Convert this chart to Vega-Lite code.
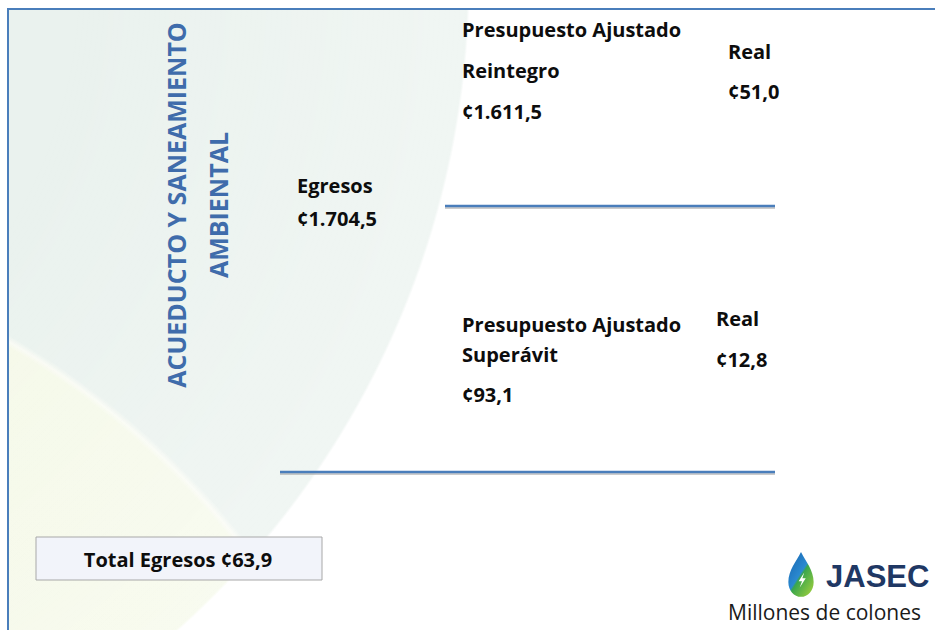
{
  "$schema": "https://vega.github.io/schema/vega-lite/v6.json",
  "width": 935,
  "height": 630,
  "autosize": {"type": "none"},
  "padding": {"left": 9, "top": 10, "right": 0, "bottom": 0},
  "background": "#ffffff",
  "config": {
    "view": {"stroke": "#4a7ebb", "strokeWidth": 4},
    "locale": {"number": {"decimal": ",", "thousands": ".", "grouping": [3], "currency": ["¢", ""]}}
  },
  "datasets": {
    "fondo": [{"capa": "fondo"}],
    "textos": [
      {"texto": "ACUEDUCTO Y SANEAMIENTO", "tipo": "titulo", "col": 1, "fila": 6},
      {"texto": "AMBIENTAL", "tipo": "titulo", "col": 2, "fila": 6},
      {"texto": "Egresos", "tipo": "concepto", "col": 4, "fila": 5},
      {"texto": "Presupuesto Ajustado", "tipo": "concepto", "col": 7, "fila": 0},
      {"texto": "Reintegro", "tipo": "concepto", "col": 7, "fila": 2},
      {"texto": "Real", "tipo": "concepto", "col": 9, "fila": 1},
      {"texto": "Presupuesto Ajustado", "tipo": "concepto", "col": 7, "fila": 10},
      {"texto": "Superávit", "tipo": "concepto", "col": 7, "fila": 11},
      {"texto": "Real", "tipo": "concepto", "col": 8, "fila": 9},
      {"texto": "Total Egresos ¢63,9", "tipo": "total", "col": 1, "fila": 16},
      {"texto": "Millones de colones", "tipo": "unidad", "col": 9, "fila": 20},
      {"texto": "JASEC", "tipo": "marca", "col": 12, "fila": 19}
    ],
    "montos": [
      {"concepto": "Egresos", "monto": 1704.5, "col": 4, "fila": 8},
      {"concepto": "Reintegro ajustado", "monto": 1611.5, "col": 7, "fila": 4},
      {"concepto": "Reintegro real", "monto": 51.0, "col": 9, "fila": 3},
      {"concepto": "Superávit ajustado", "monto": 93.1, "col": 7, "fila": 13},
      {"concepto": "Superávit real", "monto": 12.8, "col": 8, "fila": 12}
    ],
    "divisiones": [
      {"rama": "Reintegro", "col": 6, "col_fin": 10, "fila": 7},
      {"rama": "Superávit", "col": 3, "col_fin": 10, "fila": 14}
    ],
    "total": [
      {"concepto": "Total Egresos", "monto": 63.9, "col": 0, "col_fin": 5, "fila": 15, "fila_fin": 18}
    ],
    "logo": [
      {"elemento": "gota", "col": 11, "fila": 17},
      {"elemento": "rayo", "col": 11, "fila": 17}
    ]
  },
  "layer": [
    {
      "data": {"name": "fondo"},
      "mark": {
        "type": "rect",
        "fill": {
          "gradient": "radial",
          "x1": -0.435, "y1": 1.268, "r1": 0,
          "x2": -0.435, "y2": 1.268, "r2": 0.873,
          "stops": [
            {"offset": 0, "color": "#f3f7e2"},
            {"offset": 0.987, "color": "#f5f9e9"},
            {"offset": 0.993, "color": "#f9fbf4"},
            {"offset": 1, "color": "#eaf2ee"}
          ]
        }
      },
      "encoding": {}
    },
    {
      "data": {"name": "fondo"},
      "mark": {
        "type": "rect",
        "fill": {
          "gradient": "radial",
          "x1": -0.442, "y1": 0.13, "r1": 0,
          "x2": -0.442, "y2": 0.13, "r2": 0.935,
          "stops": [
            {"offset": 0, "color": "rgba(255,255,255,0)"},
            {"offset": 0.55, "color": "rgba(255,255,255,0)"},
            {"offset": 0.997, "color": "rgba(255,255,255,0.3)"},
            {"offset": 1, "color": "#ffffff"}
          ]
        }
      },
      "encoding": {}
    },
    {
      "encoding": {
        "x": {"field": "col", "type": "quantitative", "axis": null,
              "scale": {"domain": [0, 1, 2, 3, 4, 5, 6, 7, 8, 9, 10, 11, 12],
                        "range": [27, 169, 211, 271, 288, 313, 436, 453, 707, 719, 766, 792, 817],
                        "nice": false, "zero": false}},
        "y": {"field": "fila", "type": "quantitative", "axis": null,
              "scale": {"domain": [0, 1, 2, 3, 4, 5, 6, 7, 8, 9, 10, 11, 12, 13, 14, 15, 16, 17, 18, 19, 20],
                        "range": [27, 49, 68, 89, 109, 183, 195, 196, 216, 316, 322, 352, 357, 392, 462, 527, 557, 565, 570, 577, 610],
                        "nice": false, "zero": false}}
      },
      "layer": [
        {
          "data": {"name": "divisiones"},
          "mark": {"type": "rule", "color": "#8f8f8f", "strokeWidth": 2, "opacity": 0.45, "yOffset": 2},
          "encoding": {"x2": {"field": "col_fin"}}
        },
        {
          "data": {"name": "divisiones"},
          "mark": {"type": "rule", "color": "#4a7ebb", "strokeWidth": 2.5},
          "encoding": {"x2": {"field": "col_fin"}}
        },
        {
          "data": {"name": "total"},
          "mark": {"type": "rect", "fill": "#f2f4fa", "stroke": "#a8a8a8", "strokeWidth": 1},
          "encoding": {"x2": {"field": "col_fin"}, "y2": {"field": "fila_fin"}}
        },
        {
          "data": {"name": "textos"},
          "transform": [{"filter": "datum.tipo === 'titulo'"}],
          "mark": {"type": "text", "angle": 270, "align": "center", "baseline": "middle",
                   "font": "Open Sans", "fontWeight": "bold", "fontSize": 25, "color": "#3f6cab"},
          "encoding": {"text": {"field": "texto"}}
        },
        {
          "data": {"name": "textos"},
          "transform": [{"filter": "datum.tipo === 'concepto'"}],
          "mark": {"type": "text", "align": "left", "baseline": "alphabetic",
                   "font": "Open Sans", "fontWeight": "bold", "fontSize": 20, "color": "#0d0d0d"},
          "encoding": {"text": {"field": "texto"}}
        },
        {
          "data": {"name": "montos"},
          "mark": {"type": "text", "align": "left", "baseline": "alphabetic",
                   "font": "Open Sans", "fontWeight": "bold", "fontSize": 20, "color": "#0d0d0d"},
          "encoding": {"text": {"field": "monto", "type": "quantitative", "format": "$,.1f"}}
        },
        {
          "data": {"name": "textos"},
          "transform": [{"filter": "datum.tipo === 'total'"}],
          "mark": {"type": "text", "align": "center", "baseline": "alphabetic",
                   "font": "Open Sans", "fontWeight": "bold", "fontSize": 20, "color": "#0d0d0d"},
          "encoding": {"text": {"field": "texto"}}
        },
        {
          "data": {"name": "textos"},
          "transform": [{"filter": "datum.tipo === 'unidad'"}],
          "mark": {"type": "text", "align": "left", "baseline": "alphabetic",
                   "font": "Open Sans", "fontSize": 21, "color": "#1a1a1a"},
          "encoding": {"text": {"field": "texto"}}
        },
        {
          "data": {"name": "textos"},
          "transform": [{"filter": "datum.tipo === 'marca'"}],
          "mark": {"type": "text", "align": "left", "baseline": "alphabetic",
                   "font": "Liberation Sans", "fontWeight": "bold", "fontSize": 31, "color": "#1f3864"},
          "encoding": {"text": {"field": "texto"}}
        },
        {
          "data": {"name": "logo"},
          "transform": [{"filter": "datum.elemento === 'gota'"}],
          "mark": {"type": "point", "filled": true, "opacity": 1, "strokeWidth": 0, "size": 2116,
                   "shape": "M0,-1 C0.2,-0.6 0.55,-0.2 0.55,0.3 C0.55,0.68 0.3,0.95 0,0.95 C-0.3,0.95 -0.55,0.68 -0.55,0.3 C-0.55,-0.2 -0.2,-0.6 0,-1 Z",
                   "fill": {"gradient": "linear", "x1": 0.15, "y1": 0.1, "x2": 0.85, "y2": 0.9,
                            "stops": [{"offset": 0, "color": "#1b6db8"}, {"offset": 0.47, "color": "#2b8ad0"},
                                      {"offset": 0.53, "color": "#3aa64c"}, {"offset": 1, "color": "#8dc840"}]}},
          "encoding": {}
        },
        {
          "data": {"name": "logo"},
          "transform": [{"filter": "datum.elemento === 'rayo'"}],
          "mark": {"type": "point", "filled": true, "opacity": 1, "strokeWidth": 0, "size": 225,
                   "xOffset": 1, "yOffset": 5, "fill": "#ffffff",
                   "shape": "M0.3,-1 L-0.45,0.15 L0,0.15 L-0.3,1 L0.5,-0.25 L0.05,-0.25 Z"},
          "encoding": {}
        }
      ]
    }
  ]
}
